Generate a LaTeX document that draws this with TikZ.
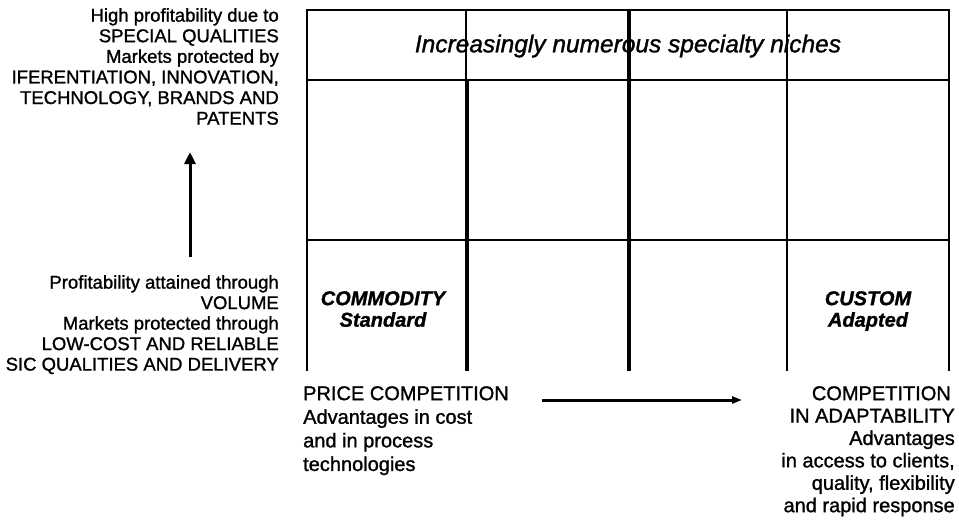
\documentclass[tikz,border=0pt]{standalone}
\usepackage{fontspec}
\setmainfont{Liberation Sans}[FakeBold=1.2]
\usepackage{tikz}
\usetikzlibrary{arrows.meta}

\begin{document}
\begin{tikzpicture}[x=1pt,y=-1pt]
                \useasboundingbox (0,0) rectangle (959,528);
                \clip (0,0) rectangle (959,528);
                % outer frame and thin rules
                \path[draw,line width=1.3pt]
                    (307,371) -- (307,10) -- (949,10) -- (949,371);
                \draw[line width=1.3pt]
                    (307,80) -- (949,80)
                    (787,10) -- (787,371)
                    (466,10) -- (466,80);
                % heavy rules
                \draw[line width=3.6pt]
                    (467,80) -- (467,371)
                    (629,10) -- (629,371);
                \draw[line width=2.6pt]
                    (307,240) -- (949,240);
                \node (niches)[font=\fontsize{24.5}{28}\selectfont\itshape]
                    at (628,46) {Increasingly numerous specialty niches};
                \node (commodity)[anchor=north,align=center,inner sep=0pt,font=\fontsize{20}{21.5}\selectfont\bfseries\itshape]
                    at (383,291) {COMMODITY\\Standard};
                \node (custom)[anchor=north,align=center,inner sep=0pt,font=\fontsize{20}{21.5}\selectfont\bfseries\itshape]
                    at (868,291) {CUSTOM\\Adapted};
                % side notes
                \node (special)[anchor=north east,align=right,inner sep=0pt,font=\fontsize{18.5}{20.6}\selectfont]
                    at (279,8) {High profitability due to\\SPECIAL QUALITIES\\Markets protected by\\IFERENTIATION, INNOVATION,\\TECHNOLOGY, BRANDS AND\\PATENTS};
                \node (volume)[anchor=north east,align=right,inner sep=0pt,font=\fontsize{18.5}{20.5}\selectfont]
                    at (279,275) {Profitability attained through\\VOLUME\\Markets protected through\\LOW-COST AND RELIABLE\\SIC QUALITIES AND DELIVERY};
                \node (price)[anchor=north west,align=left,inner sep=0pt,font=\fontsize{20}{23.6}\selectfont]
                    at (303,386) {PRICE COMPETITION\\Advantages in cost\\and in process\\technologies};
                \node (adapt)[anchor=north east,align=right,inner sep=0pt,font=\fontsize{20}{22.4}\selectfont]
                    at (955,386) {COMPETITION\hspace*{4pt}\\IN ADAPTABILITY\\Advantages\hspace*{10pt}\\in access to clients,\\quality, flexibility\\and rapid response};
                % arrows
                \coordinate (up tail) at (190,257);
                \coordinate (up tip) at (190,152);
                \coordinate (right tail) at (542,400);
                \coordinate (right tip) at (742,400);
                \draw[line width=3pt,-{Triangle[length=12pt,width=11pt]}]
                    (up tail) -- (up tip);
                \draw[line width=3pt,-{Triangle[length=10pt,width=7pt]}]
                    (right tail) -- (right tip);
\end{tikzpicture}
\end{document}
